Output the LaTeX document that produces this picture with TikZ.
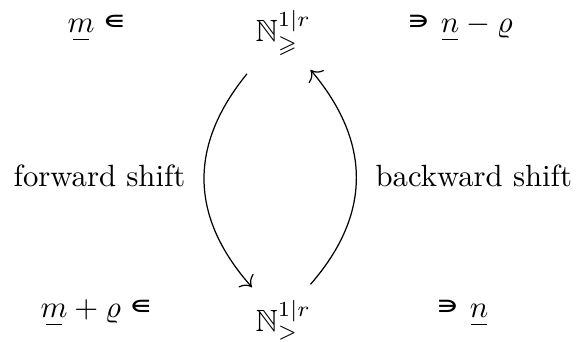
\documentclass[tikz,border=0pt]{standalone}
\usepackage{amsmath,amssymb}
\usepackage{fontspec}
\newfontfamily\djv{DejaVu Sans}
\usetikzlibrary{arrows.meta}
\newcommand{\ubm}[1]{\mathord{\vtop{\halign{\hfil##\hfil\cr$#1$\cr\noalign{\kern1.8pt\nointerlineskip}\rule{5pt}{0.4pt}\cr}}}}
\newcommand{\inn}{\raisebox{1.8pt}{\resizebox{6.5pt}{4pt}{\djv\bfseries ∈}}}
\newcommand{\nii}{\raisebox{1.8pt}{\resizebox{6.5pt}{4pt}{\djv\bfseries ∋}}}
\begin{document}
\begin{tikzpicture}[x=0.3257pt,y=-0.3257pt,
  lbl/.style={inner sep=0pt, anchor=base west},
  arr/.style={-{Computer Modern Rightarrow[scale=1.25]}, line width=0.4pt}]
\useasboundingbox (0,0) rectangle (577,342);
\node[lbl] (tl) at (67,33) {$\ubm{m}$\hspace{3.2pt}\inn};
\node[lbl] (tN) at (255,42) {$\mathbb{N}^{1|r}_{\geqslant}$};
\node[lbl] (tr) at (408,33) {\nii\hspace{4pt}$\ubm{n}-\varrho$};
\node[lbl] (bl) at (40,318) {$\ubm{m}+\varrho$\hspace{3.2pt}\inn};
\node[lbl] (bN) at (255,332) {$\mathbb{N}^{1|r}_{>}$};
\node[lbl] (br) at (437,318) {\nii\hspace{4pt}$\ubm{n}$};
\node[lbl] (fw) at (13,187) {forward shift};
\node[lbl] (bw) at (375,187) {backward shift};
\draw[arr] ([shift={(-8,18)}]tN.south west) .. controls +(-58,71) and +(-63,-71) .. ([shift={(-3,-12)}]bN.north west);
\draw[arr] ([shift={(-1,-15)}]bN.north east) .. controls +(62,-71) and +(60,71) .. ([shift={(-1,14)}]tN.south east);
\end{tikzpicture}
\end{document}
